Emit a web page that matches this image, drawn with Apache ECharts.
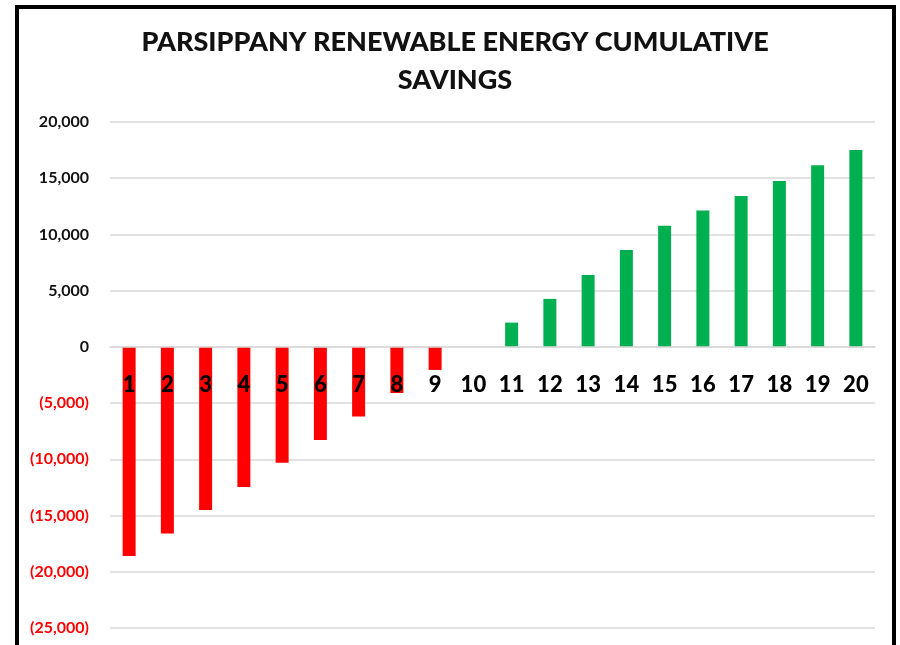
<!DOCTYPE html>
<html>
<head>
<meta charset="utf-8">
<title>Parsippany Renewable Energy Cumulative Savings</title>
<script src="https://cdn.jsdelivr.net/npm/echarts@6/dist/echarts.min.js"></script>
<style>
  html, body { margin: 0; padding: 0; background: #ffffff; }
  #chart { width: 900px; height: 645px; }
</style>
</head>
<body>
<div id="chart"></div>
<script>
// Year of the project
const years = ['1','2','3','4','5','6','7','8','9','10','11','12','13','14','15','16','17','18','19','20'];
// Cumulative savings per year (dollars)
const savings = [-18600, -16600, -14500, -12450, -10300, -8270, -6200, -4100, -2050, 0,
                 2160, 4270, 6400, 8620, 10780, 12120, 13420, 14760, 16150, 17510];
// Value axis range
const axisMin = -25000;
const axisMax = 20000;
const axisStep = 5000;

const titleLines = ['PARSIPPANY RENEWABLE ENERGY CUMULATIVE', 'SAVINGS'];

const FONT = 'Lato, "Open Sans", sans-serif';

// Plot area
const GRID = { left: 110, right: 25, top: 122, bottom: 17 };
const CHART_H = 645;
const plotH = CHART_H - GRID.top - GRID.bottom;
// Lift the category axis from the bottom edge up to the zero line
const zeroOffset = -plotH * (0 - axisMin) / (axisMax - axisMin);

function fmt(v) {
  const s = Math.abs(v).toLocaleString('en-US');
  return v < 0 ? '(' + s + ')' : s;
}

const chart = echarts.init(document.getElementById('chart'), null, { renderer: 'canvas' });

const titleStyle = {
  fontFamily: FONT, fontWeight: 900, fontSize: 27,
  fill: '#111111', align: 'center', verticalAlign: 'middle'
};

chart.setOption({
  backgroundColor: '#ffffff',
  animation: false,
  graphic: [
    {
      type: 'rect',
      shape: { x: 17, y: 7, width: 877, height: 720 },
      style: { fill: 'none', stroke: '#000000', lineWidth: 4 },
      silent: true,
      z: 100
    },
    {
      type: 'text', x: 455, y: 42,
      style: Object.assign({ text: titleLines[0] }, titleStyle),
      silent: true
    },
    {
      type: 'text', x: 455, y: 80,
      style: Object.assign({ text: titleLines[1] }, titleStyle),
      silent: true
    }
  ],
  grid: Object.assign({ containLabel: false, outerBoundsMode: 'none' }, GRID),
  xAxis: {
    type: 'category',
    data: years,
    position: 'bottom',
    offset: zeroOffset,
    z: 3,
    axisLine: { show: true, onZero: false, lineStyle: { color: '#d9d9d9', width: 1.5 } },
    axisTick: { show: false },
    axisLabel: {
      interval: 0,
      margin: 27,
      fontFamily: FONT,
      fontWeight: 900,
      fontSize: 22,
      color: '#000000'
    },
    splitLine: { show: false }
  },
  yAxis: {
    type: 'value',
    min: axisMin,
    max: axisMax,
    interval: axisStep,
    axisLine: { show: false },
    axisTick: { show: false },
    axisLabel: {
      margin: 21,
      fontFamily: FONT,
      fontWeight: 'bold',
      fontSize: 16,
      formatter: fmt,
      color: function (v) { return v < 0 ? '#ff0000' : '#111111'; }
    },
    splitLine: { lineStyle: { color: '#d9d9d9', width: 1.5 } }
  },
  series: [{
    type: 'bar',
    data: savings,
    barWidth: 13,
    z: 2,
    itemStyle: {
      color: function (p) { return p.value < 0 ? '#ff0000' : '#00b050'; }
    }
  }]
});
</script>
</body>
</html>
